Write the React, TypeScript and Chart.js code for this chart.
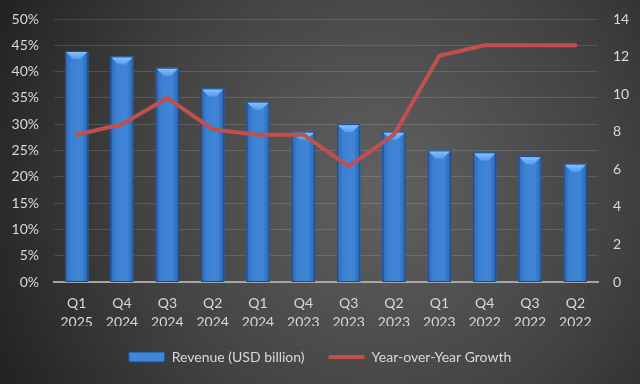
import React, { useEffect, useRef } from "react";
import { Chart, registerables } from "chart.js";

Chart.register(...registerables);

const categories: string[][] = [
  ["Q1", "2025"], ["Q4", "2024"], ["Q3", "2024"], ["Q2", "2024"],
  ["Q1", "2024"], ["Q4", "2023"], ["Q3", "2023"], ["Q2", "2023"],
  ["Q1", "2023"], ["Q4", "2022"], ["Q3", "2022"], ["Q2", "2022"],
];
const revenue: number[] = [12.3, 12.0, 11.4, 10.3, 9.6, 8.0, 8.4, 8.0, 7.0, 6.9, 6.7, 6.3];
const growth: number[] = [28, 30, 35, 29, 28, 28, 22, 28, 43, 45, 45, 45];
const revenueLabel = "Revenue (USD billion)";
const growthLabel = "Year-over-Year Growth";

const FONT = "Lato, 'Open Sans', sans-serif";
const TEXT = "#d9d9d9";

const bgPlugin = {
  id: "bg",
  beforeDraw(chart: any) {
    const { ctx, width, height } = chart;
    ctx.save();
    const g = ctx.createRadialGradient(380, 190, 10, 380, 190, 470);
    g.addColorStop(0, "#606060");
    g.addColorStop(0.5, "#424242");
    g.addColorStop(1, "#1a1a1a");
    ctx.fillStyle = g;
    ctx.fillRect(0, 0, width, height);
    ctx.restore();
  },
};

const barStylePlugin = {
  id: "barStyle",
  afterDatasetDraw(chart: any, args: any) {
    if (args.meta.type !== "bar") return;
    const ctx = chart.ctx;
    ctx.save();
    args.meta.data.forEach((el: any) => {
      const { x, y, base, width } = el.getProps(["x", "y", "base", "width"], true);
      const left = x - width / 2;
      const right = x + width / 2;
      const g = ctx.createLinearGradient(left, 0, right, 0);
      g.addColorStop(0, "#2c66b4");
      g.addColorStop(0.25, "#3b80d3");
      g.addColorStop(0.7, "#3f86d9");
      g.addColorStop(1, "#2c64b0");
      ctx.fillStyle = g;
      ctx.fillRect(left, y, width, base - y);
      ctx.strokeStyle = "#1d4a86";
      ctx.lineWidth = 1;
      ctx.strokeRect(left + 0.5, y + 0.5, width - 1, base - y - 1);
      const b = 7;
      const vg = ctx.createLinearGradient(0, y, 0, y + b);
      vg.addColorStop(0, "#8cc6fb");
      vg.addColorStop(1, "#5aa0ee");
      ctx.fillStyle = vg;
      ctx.beginPath();
      ctx.moveTo(left + 1, y + 1);
      ctx.lineTo(right - 1, y + 1);
      ctx.lineTo(right - 1 - b, y + 1 + b);
      ctx.lineTo(left + 1 + b, y + 1 + b);
      ctx.closePath();
      ctx.fill();
    });
    ctx.restore();
  },
};

export default function App() {
  const ref = useRef<HTMLCanvasElement | null>(null);
  useEffect(() => {
    if (!ref.current) return;
    const chart = new Chart(ref.current, {
      type: "bar",
      data: {
        labels: categories,
        datasets: [
          {
            type: "line",
            label: growthLabel,
            data: growth,
            yAxisID: "y",
            borderColor: "#c0504d",
            backgroundColor: "#c0504d",
            borderWidth: 4,
            pointRadius: 0,
            tension: 0,
            borderCapStyle: "round",
            borderJoinStyle: "round",
          } as any,
          {
            type: "bar",
            label: revenueLabel,
            data: revenue,
            yAxisID: "y1",
            backgroundColor: "#3f86d9",
            borderWidth: 0,
            barPercentage: 0.51,
            categoryPercentage: 1,
          } as any,
        ],
      },
      options: {
        animation: false,
        responsive: false,
        maintainAspectRatio: false,
        layout: { padding: { top: 19, left: 0, right: 0, bottom: 10 } },
        plugins: {
          tooltip: { enabled: false },
          legend: {
            position: "bottom",
            labels: {
              color: TEXT,
              font: { family: FONT, size: 14 },
              usePointStyle: true,
              pointStyleWidth: 36,
              boxWidth: 36,
              boxHeight: 10,
              padding: 24,
              generateLabels: () => [
                {
                  text: revenueLabel,
                  fillStyle: "#3f86d9",
                  strokeStyle: "#1d4a86",
                  lineWidth: 1,
                  pointStyle: "rect",
                  datasetIndex: 1,
                  hidden: false,
                  fontColor: TEXT,
                } as any,
                {
                  text: growthLabel,
                  fillStyle: "#c0504d",
                  strokeStyle: "#c0504d",
                  lineWidth: 4,
                  pointStyle: "line",
                  datasetIndex: 0,
                  hidden: false,
                  fontColor: TEXT,
                } as any,
              ],
            },
          },
        },
        scales: {
          x: {
            grid: { display: false, drawTicks: false },
            border: { display: true, color: "#a6a6a6", width: 2 },
            ticks: {
              color: TEXT,
              font: { family: FONT, size: 14, lineHeight: 1.36 },
              padding: 11.5,
              maxRotation: 0,
              autoSkip: false,
            },
            afterFit: (s: any) => { s.height = 44; },
          },
          y: {
            position: "left",
            min: 0,
            max: 50,
            grid: { color: "rgba(255,255,255,0.13)", lineWidth: 1, drawTicks: false },
            border: { display: false },
            ticks: {
              stepSize: 5,
              color: TEXT,
              font: { family: FONT, size: 14 },
              padding: 15,
              callback: (v: any) => v + "%",
            },
            afterFit: (s: any) => { s.width = 54; s.paddingTop = 0; s.paddingBottom = 0; },
          },
          y1: {
            position: "right",
            min: 0,
            max: 14,
            grid: { display: false, drawTicks: false },
            border: { display: false },
            ticks: {
              stepSize: 2,
              color: TEXT,
              font: { family: FONT, size: 14 },
              padding: 15,
            },
            afterFit: (s: any) => { s.width = 42; s.paddingTop = 0; s.paddingBottom = 0; },
          },
        },
      },
      plugins: [bgPlugin, barStylePlugin],
    });
    return () => chart.destroy();
  }, []);
  return (
    <div style={{ position: "fixed", left: 0, top: 0, width: 640, height: 384 }}>
      <canvas ref={ref} width={640} height={384} style={{ width: 640, height: 384, display: "block" }} />
    </div>
  );
}
